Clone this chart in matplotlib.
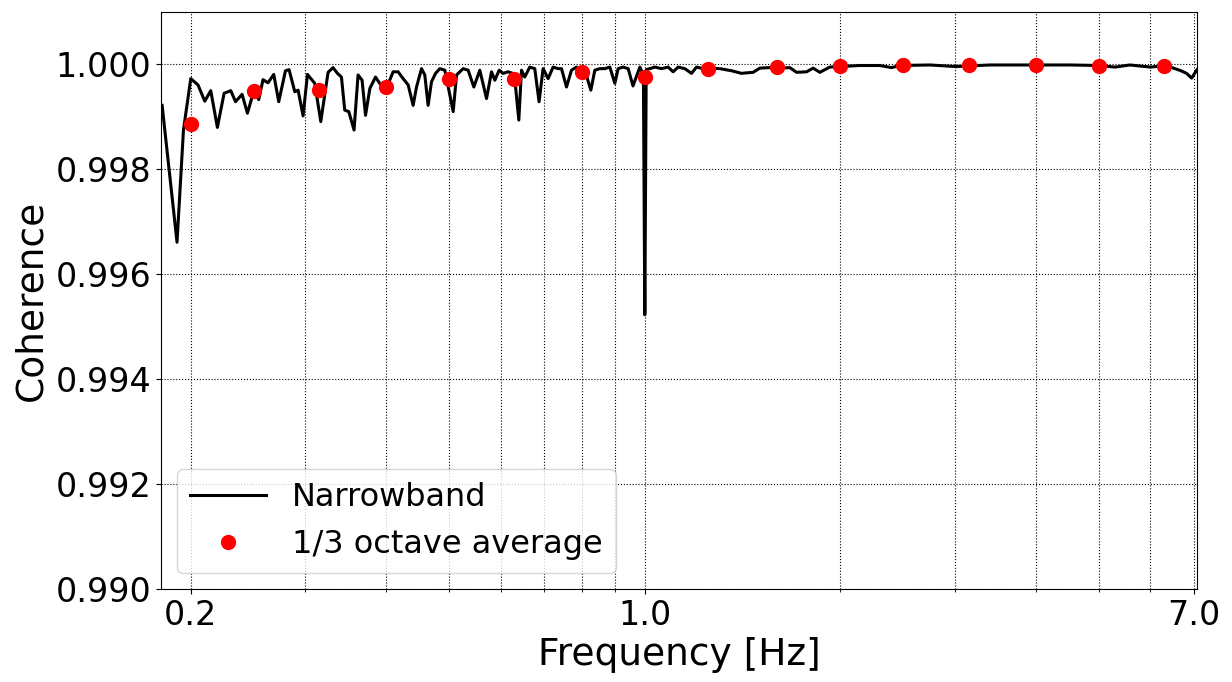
import numpy as np
import matplotlib
matplotlib.use("Agg")
import matplotlib.pyplot as plt
from matplotlib.ticker import FixedLocator, FixedFormatter, LogLocator, NullFormatter, FormatStrFormatter

# narrowband coherence
freq = [0.1807, 0.1905, 0.1949, 0.2, 0.2052, 0.2102, 0.2147, 0.2198, 0.2251, 0.2305,
        0.2344, 0.2399, 0.2445, 0.2503, 0.2545, 0.2584, 0.2630, 0.2684, 0.2732, 0.2798,
        0.2834, 0.2892, 0.2926, 0.2978, 0.3025, 0.3104, 0.3171, 0.3254, 0.3312, 0.3364,
        0.3412, 0.3452, 0.3502, 0.3568, 0.3619, 0.3671, 0.3716, 0.3773, 0.3850, 0.3922,
        0.4003, 0.4098, 0.4171, 0.4246, 0.4322, 0.4399, 0.4452, 0.4532, 0.4585, 0.4639,
        0.4695, 0.4763, 0.4836, 0.4923, 0.5070, 0.5131, 0.5253, 0.5346, 0.5455, 0.5572,
        0.5706, 0.5808, 0.5877, 0.5967, 0.6052, 0.6160, 0.6296, 0.6398, 0.6459, 0.6534,
        0.6651, 0.6770, 0.6874, 0.6973, 0.7098, 0.7225, 0.7354, 0.7443, 0.7576, 0.7711,
        0.7849, 0.7942, 0.8084, 0.8259, 0.8376, 0.8526, 0.8678, 0.8834, 0.8992, 0.9098,
        0.9261, 0.9427, 0.9590, 0.9826, 0.995, 1.0, 1.005, 1.0179, 1.0361, 1.0610,
        1.0861, 1.1055, 1.1254, 1.1522, 1.1800, 1.2011, 1.2297, 1.2593, 1.3045, 1.3599,
        1.4090, 1.4342, 1.4681, 1.5036, 1.5578, 1.6139, 1.6719, 1.7124, 1.7741, 1.8159,
        1.8596, 1.9266, 1.9961, 2.1429, 2.3005, 2.3980, 2.4700, 2.7470, 3.0089, 3.3977,
        3.999, 4.5111, 5.0, 5.2921, 5.5814, 6.0, 6.3417, 6.6875, 6.8236, 6.9456, 7.079]
coh = [0.99922, 0.99661, 0.99875, 0.99973, 0.99961, 0.99930, 0.99950, 0.99880, 0.99945, 0.99950,
       0.99929, 0.99943, 0.99907, 0.99951, 0.99933, 0.99971, 0.99965, 0.99981, 0.99929, 0.99988,
       0.99990, 0.99948, 0.99951, 0.99902, 0.99981, 0.99964, 0.99891, 0.99985, 0.99994, 0.99983,
       0.99976, 0.99913, 0.99910, 0.99875, 0.99980, 0.99970, 0.99903, 0.99954, 0.99976, 0.99961,
       0.99955, 0.99986, 0.99986, 0.99973, 0.99961, 0.99922, 0.99957, 0.99992, 0.99980, 0.99922,
       0.99967, 0.99983, 0.99992, 0.99989, 0.99910, 0.99980, 0.99992, 0.99989, 0.99957, 0.99989,
       0.99935, 0.99986, 0.99970, 0.99989, 0.99983, 0.99986, 0.99982, 0.99894, 0.99989, 0.99976,
       0.99995, 0.99992, 0.99929, 0.99992, 0.99973, 0.99995, 0.99992, 0.99992, 0.99957, 0.99989,
       0.99995, 0.99986, 0.99989, 0.99951, 0.99989, 0.99992, 0.99992, 0.99995, 0.99964, 0.99992,
       0.99995, 0.99992, 0.99959, 0.99995, 0.99980, 0.995225, 0.99990, 0.99992, 0.99995, 0.99992,
       0.99995, 0.99986, 0.99995, 0.99992, 0.99983, 0.99995, 0.99992, 0.99993, 0.99992, 0.99988,
       0.99983, 0.99984, 0.99985, 0.99993, 0.99994, 0.99993, 0.99994, 0.99985, 0.99986, 0.99993,
       0.99985, 0.99995, 0.99996, 0.99998, 0.99998, 0.99994, 0.99998, 0.99999, 0.99996, 0.99999,
       0.99999, 0.99999, 0.99998, 0.99995, 0.99999, 0.99995, 0.99998, 0.99988, 0.99983, 0.99974, 0.99990]

# 1/3 octave band averages
band_freq = [0.2, 0.25, 0.315, 0.4, 0.5, 0.63, 0.8, 1.0, 1.25, 1.6, 2.0, 2.5, 3.15, 4.0, 5.0, 6.3]
band_coh = [0.99886, 0.99949, 0.99951, 0.99957, 0.99973, 0.99973, 0.99986, 0.99976,
            0.99992, 0.99995, 0.99997, 0.99999, 0.99999, 0.99999, 0.99997, 0.99998]

xticks = [0.2, 1.0, 7.0]
xtick_labels = ["0.2", "1.0", "7.0"]


def main():
    fig, ax = plt.subplots(figsize=(12.32, 6.82), dpi=100)
    fig.subplots_adjust(left=0.1307, right=0.9716, bottom=0.1364, top=0.9824)

    ax.plot(freq, coh, color="black", linewidth=2.2, label="Narrowband")
    ax.plot(band_freq, band_coh, "o", color="red", markersize=10, label="1/3 octave average")

    ax.set_xscale("log")
    ax.set_xlim(0.18, 7.08)
    ax.set_ylim(0.990, 1.001)
    ax.xaxis.set_major_locator(FixedLocator(xticks))
    ax.xaxis.set_major_formatter(FixedFormatter(xtick_labels))
    ax.xaxis.set_minor_locator(LogLocator(base=10, subs=np.arange(2, 10)))
    ax.xaxis.set_minor_formatter(NullFormatter())
    ax.set_yticks(np.arange(0.990, 1.0005, 0.002))
    ax.yaxis.set_major_formatter(FormatStrFormatter("%.3f"))
    ax.tick_params(labelsize=24)

    ax.grid(True, which="both", linestyle=":", color="black", linewidth=0.8)
    ax.set_xlabel("Frequency [Hz]", fontsize=27)
    ax.set_ylabel("Coherence", fontsize=27)
    ax.legend(loc="lower left", fontsize=23, handlelength=2.4)

    fig.savefig("out.png", dpi=100)


if __name__ == "__main__":
    main()
